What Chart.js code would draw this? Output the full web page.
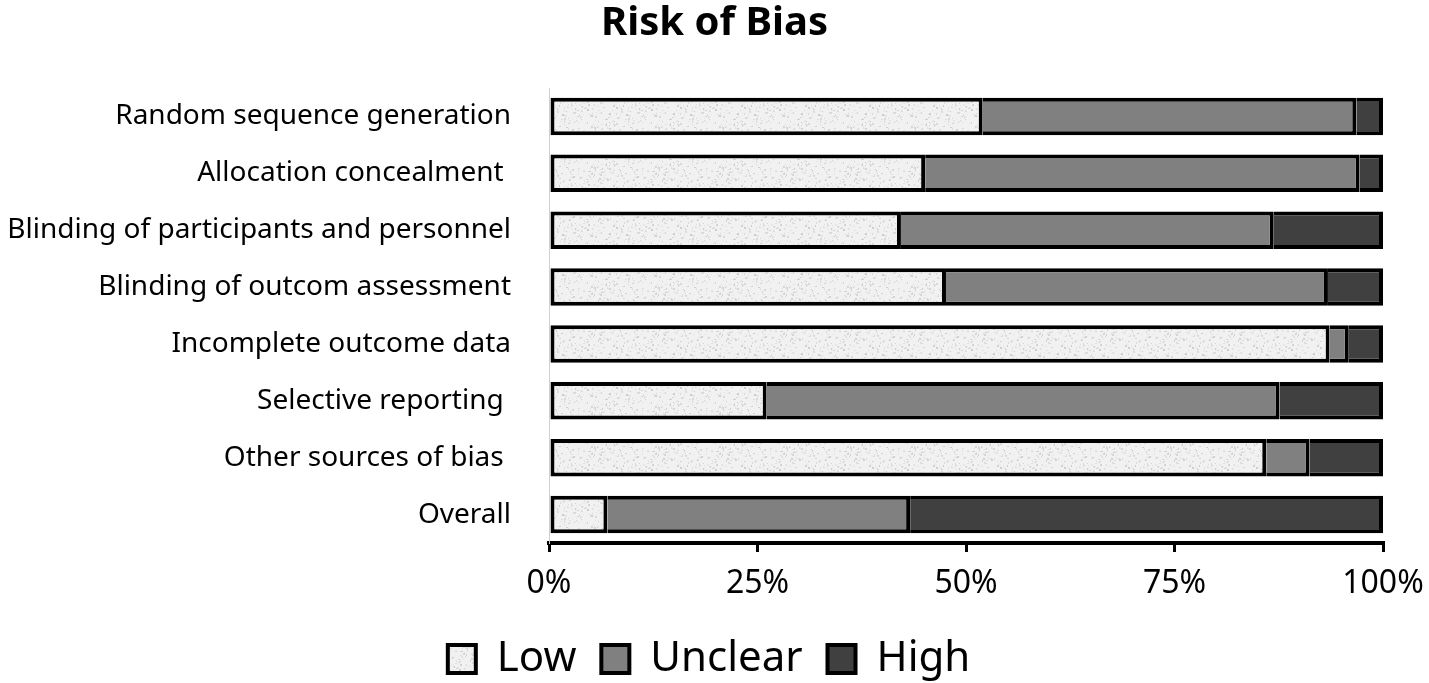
<!DOCTYPE html>
<html>
<head>
<meta charset="utf-8">
<script src="https://cdn.jsdelivr.net/npm/chart.js@4"></script>
<style>
  html, body { margin: 0; padding: 0; background: #fff; }
  #wrap { width: 1429px; height: 683px; }
</style>
</head>
<body>
<div id="wrap"><canvas id="chart"></canvas></div>
<script>
const domains = [
    'Random sequence generation',
    'Allocation concealment ',
    'Blinding of participants and personnel',
    'Blinding of outcom assessment',
    'Incomplete outcome data',
    'Selective reporting ',
    'Other sources of bias ',
    'Overall'
];
const lowPct = [52.0, 45.1, 42.2, 47.6, 93.6, 26.1, 86.0, 7.0];
const unclearPct = [44.8, 52.1, 44.7, 45.8, 2.3, 61.5, 5.2, 36.3];
const highPct = [3.2, 2.8, 13.1, 6.6, 4.1, 12.4, 8.8, 56.7];
const xTicks = [0, 25, 50, 75, 100];

// speckled light grey fill like the original "Low" texture
function speckle() {
    const c = document.createElement('canvas');
    c.width = 64; c.height = 40;
    const g = c.getContext('2d');
    g.fillStyle = '#f1f1f1';
    g.fillRect(0, 0, 64, 40);
    for (let i = 0; i < 260; i++) {
        const x = (i * 37 + (i * i) % 23) % 64;
        const y = (i * 17 + (i * 7) % 13) % 40;
        const shade = 205 + (i * 11) % 40;
        g.fillStyle = 'rgb(' + shade + ',' + shade + ',' + shade + ')';
        g.fillRect(x, y, 1 + i % 2, 1 + (i >> 1) % 2);
    }
    return g.createPattern(c, 'repeat');
}

const font = '"Noto Sans", "DejaVu Sans", sans-serif';
const lowFill = speckle();

const ctx = document.getElementById('chart');
new Chart(ctx, {
    type: 'bar',
    data: {
        labels: domains,
        datasets: [
            { label: 'Low', data: lowPct, backgroundColor: lowFill,
              borderWidth: { top: 4, bottom: 4, left: 4, right: 4 } },
            { label: 'Unclear', data: unclearPct, backgroundColor: '#808080',
              borderWidth: { top: 4, bottom: 4, left: 0, right: 4 } },
            { label: 'High', data: highPct, backgroundColor: '#404040',
              borderWidth: { top: 4, bottom: 4, left: 0, right: 4 } }
        ]
    },
    options: {
        indexAxis: 'y',
        responsive: true,
        maintainAspectRatio: false,
        animation: false,
        layout: { padding: { left: 0, right: 0, top: 0, bottom: -7 } },
        datasets: {
            bar: {
                borderColor: '#000',
                borderSkipped: false,
                categoryPercentage: 1,
                barPercentage: 0.66
            }
        },
        scales: {
            x: {
                stacked: true,
                min: 0,
                max: 100,
                afterBuildTicks: function (scale) {
                    scale.ticks = xTicks.map(v => ({ value: v }));
                },
                afterFit: function (scale) {
                    scale.height = 81;
                    scale.paddingLeft = 0;
                    scale.paddingRight = 0;
                },
                ticks: {
                    color: '#000',
                    font: { family: font, size: 32 },
                    padding: 13,
                    callback: function (value) { return value + '%'; }
                },
                grid: {
                    drawOnChartArea: false,
                    drawTicks: true,
                    tickLength: 9,
                    color: '#000',
                    lineWidth: 3
                },
                border: { display: true, color: '#000', width: 4 }
            },
            y: {
                stacked: true,
                afterFit: function (scale) { scale.width = 549; },
                ticks: {
                    color: '#000',
                    font: { family: font, size: 28 },
                    padding: 30
                },
                grid: { display: false },
                border: { display: true, color: '#d0d0d0', width: 1 }
            },
            // empty right margin so title and legend stay centred on the page
            yRight: {
                type: 'category',
                position: 'right',
                display: true,
                afterFit: function (scale) { scale.width = 46; },
                ticks: { display: false },
                grid: { display: false },
                border: { display: false }
            }
        },
        plugins: {
            title: {
                display: true,
                text: 'Risk of Bias',
                color: '#000',
                font: { family: font, size: 40, weight: 'bold' },
                padding: { top: 0, bottom: 40 }
            },
            legend: {
                position: 'bottom',
                labels: {
                    color: '#000',
                    font: { family: font, size: 42 },
                    boxWidth: 28,
                    boxHeight: 28,
                    padding: 14,
                    generateLabels: function (chart) {
                        return chart.data.datasets.map((ds, i) => ({
                            text: ds.label + ' ',
                            fillStyle: ds.backgroundColor,
                            strokeStyle: '#000',
                            lineWidth: 4,
                            fontColor: '#000',
                            hidden: false,
                            datasetIndex: i
                        }));
                    }
                }
            },
            tooltip: { enabled: false }
        }
    }
});
</script>
</body>
</html>
